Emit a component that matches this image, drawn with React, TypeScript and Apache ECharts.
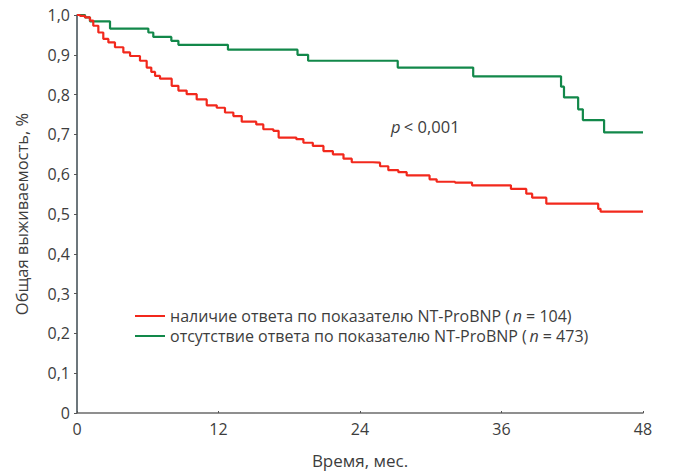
import React, { useEffect, useRef } from "react";
import * as echarts from "echarts";

const xTicks = [0, 12, 24, 36, 48];
const yTickLabels = ["0", "0,1", "0,2", "0,3", "0,4", "0,5", "0,6", "0,7", "0,8", "0,9", "1,0"];

const redName = "наличие ответа по показателю NT-ProBNP";
const redN = 104;
const greenName = "отсутствие ответа по показателю NT-ProBNP";
const greenN = 473;

// [months, survival] — survival after the step at that time
const redCurve: [number, number][] = [
  [0, 1.0], [0.25, 0.998], [0.68, 0.994], [1.1, 0.986], [1.38, 0.973], [1.81, 0.956],
  [2.23, 0.94], [2.66, 0.931], [3.22, 0.919], [3.93, 0.906], [4.5, 0.897], [5.34, 0.885],
  [5.91, 0.868], [6.3, 0.857], [6.62, 0.847], [7.04, 0.84], [8.03, 0.822], [8.6, 0.81],
  [9.3, 0.801], [10.15, 0.788], [11.0, 0.773], [11.85, 0.767], [12.55, 0.755], [13.26, 0.746],
  [13.97, 0.732], [15.2, 0.725], [15.8, 0.713], [16.65, 0.709], [17.1, 0.692], [18.6, 0.688],
  [19.2, 0.679], [20.0, 0.671], [20.9, 0.658], [21.7, 0.65], [22.6, 0.639], [23.3, 0.63],
  [25.1, 0.629], [25.7, 0.62], [26.4, 0.61], [27.25, 0.605], [27.96, 0.597], [29.9, 0.587],
  [30.5, 0.581], [32.06, 0.579], [33.5, 0.572], [36.8, 0.563], [38.1, 0.551], [38.6, 0.541],
  [39.8, 0.526], [44.2, 0.513], [44.4, 0.506], [48, 0.506],
];

const greenCurve: [number, number][] = [
  [0, 1.0], [0.68, 0.994], [1.1, 0.984], [2.8, 0.966], [6.05, 0.956], [6.47, 0.945],
  [8.0, 0.935], [8.6, 0.925], [12.8, 0.913], [18.7, 0.9], [19.6, 0.885], [27.2, 0.868],
  [33.6, 0.846], [41.05, 0.82], [41.3, 0.793], [42.5, 0.763], [42.9, 0.736], [44.7, 0.705],
  [48, 0.705],
];

const pText = "< 0,001";

export default function App() {
  const ref = useRef<HTMLDivElement>(null);
  useEffect(() => {
    if (!ref.current) return;
    const chart = echarts.init(ref.current, null, { renderer: "svg" });
    const font = "'Open Sans', 'Noto Sans', sans-serif";
    const txt = "#3d3d3d";
    const nMap: Record<string, number> = { [redName]: redN, [greenName]: greenN };
    chart.setOption({
      animation: false,
      backgroundColor: "#ffffff",
      grid: { left: 77, right: 34, top: 15, bottom: 63 },
      xAxis: {
        type: "value",
        min: xTicks[0],
        max: xTicks[xTicks.length - 1],
        interval: 12,
        name: "Время, мес.",
        nameLocation: "middle",
        nameGap: 39,
        nameTextStyle: { fontSize: 17, color: txt, fontFamily: font },
        axisLine: { show: true, lineStyle: { color: "#6b6b6b", width: 1.5 } },
        axisTick: { show: true, inside: true, length: 2, lineStyle: { color: "#555" } },
        axisLabel: { fontSize: 16, color: txt, fontFamily: font, margin: 8 },
        splitLine: { show: false },
      },
      yAxis: {
        type: "value",
        min: 0,
        max: 1,
        interval: 0.1,
        name: "Общая выживаемость, %",
        nameLocation: "middle",
        nameGap: 47,
        nameTextStyle: { fontSize: 16.5, color: txt, fontFamily: font },
        axisLine: { show: true, lineStyle: { color: "#3c4a50", width: 1.5 } },
        axisTick: { show: true, length: 3, lineStyle: { color: "#555" } },
        axisLabel: {
          fontSize: 16,
          color: txt,
          fontFamily: font,
          margin: 7,
          formatter: (v: number) => yTickLabels[Math.round(v * 10)] ?? "",
        },
        splitLine: { show: false },
      },
      legend: {
        orient: "vertical",
        left: 130,
        top: 303,
        icon: "rect",
        itemWidth: 30,
        itemHeight: 2,
        itemGap: 4,
        data: [redName, greenName],
        formatter: (name: string) => `{a|${name} (\u2009}{i|n}{a| = ${nMap[name]})}`,
        textStyle: {
          fontFamily: font,
          fontSize: 16,
          color: txt,
          rich: {
            a: { fontSize: 16, color: txt, fontFamily: font },
            i: { fontSize: 16, color: txt, fontFamily: font, fontStyle: "italic" },
          },
        },
      },
      graphic: [
        {
          type: "text",
          left: 391,
          top: 118,
          style: {
            text: `{i|p} {a|${pText}}`,
            rich: {
              i: { fontSize: 16.5, fill: txt, fontFamily: font, fontStyle: "italic" },
              a: { fontSize: 16.5, fill: txt, fontFamily: font },
            },
          },
        },
      ],
      series: [
        {
          name: greenName,
          type: "line",
          step: "end",
          data: greenCurve,
          showSymbol: false,
          symbol: "none",
          itemStyle: { color: "#12884a" },
          lineStyle: { color: "#12884a", width: 2.2 },
          z: 2,
        },
        {
          name: redName,
          type: "line",
          step: "end",
          data: redCurve,
          showSymbol: false,
          symbol: "none",
          itemStyle: { color: "#f2281c" },
          lineStyle: { color: "#f2281c", width: 2.2 },
          z: 3,
        },
      ],
    });
    return () => chart.dispose();
  }, []);
  return (
    <div
      ref={ref}
      style={{ position: "absolute", left: 0, top: 0, width: 677, height: 476 }}
    />
  );
}
